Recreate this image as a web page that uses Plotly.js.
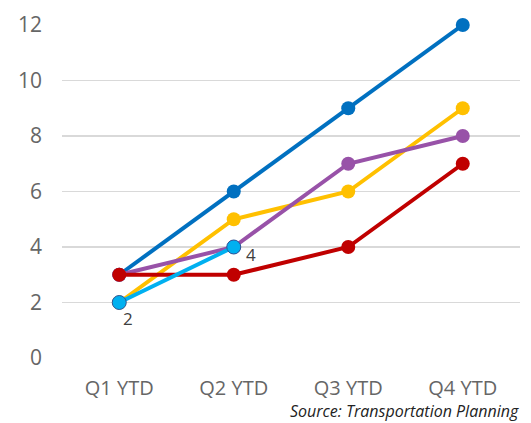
<!DOCTYPE html>
<html>
<head>
<meta charset="utf-8">
<script src="https://cdn.plot.ly/plotly-3.0.1.min.js"></script>
<style>html,body{margin:0;padding:0;background:#fff;}#chart{width:531px;height:423px;}</style>
</head>
<body>
<div id="chart"></div>
<script>
var categories = ["Q1 YTD", "Q2 YTD", "Q3 YTD", "Q4 YTD"];
var seriesBlue = [3, 6, 9, 12];
var seriesYellow = [2, 5, 6, 9];
var seriesPurple = [3, 4, 7, 8];
var seriesRed = [3, 3, 4, 7];
var seriesLightBlue = [2, 4];
var lightBlueLabels = ["2", "4"];
var yTicks = [0, 2, 4, 6, 8, 10, 12];
var sourceText = "Source: Transportation Planning";

function line(y, color, extra) {
  var t = {
    x: categories.slice(0, y.length), y: y, type: "scatter", mode: "lines+markers",
    line: {color: color, width: 4},
    marker: {color: color, size: 14},
    cliponaxis: false, hoverinfo: "skip", showlegend: false
  };
  for (var k in extra) t[k] = extra[k];
  return t;
}

var traces = [
  line(seriesBlue, "#0070C0"),
  line(seriesYellow, "#FFC000"),
  line(seriesPurple, "#9852A8"),
  line(seriesRed, "#C00000"),
  line(seriesLightBlue, "#00B0F0", {
    marker: {color: "#00B0F0", size: 14, line: {color: "#2F5597", width: 1}}
  })
];

var labelShifts = [[9, -16], [17, -7]];
var annotations = seriesLightBlue.map(function (v, i) {
  return {
    x: categories[i], y: v, xref: "x", yref: "y", text: lightBlueLabels[i],
    showarrow: false, xshift: labelShifts[i][0], yshift: labelShifts[i][1],
    font: {family: "Open Sans, sans-serif", size: 17, color: "#404040"}
  };
});
annotations.push({
  text: "<i>" + sourceText + "</i>", xref: "paper", yref: "paper",
  x: 1.0, y: 0, xanchor: "right", yanchor: "top", yshift: -40, xshift: 1,
  showarrow: false, font: {size: 16, color: "#222", family: "Open Sans, sans-serif"}
});

var layout = {
  width: 531, height: 423,
  margin: {l: 62, r: 11, t: 25, b: 65},
  paper_bgcolor: "#fff", plot_bgcolor: "#fff",
  font: {family: "Open Sans, sans-serif", color: "#595959"},
  xaxis: {
    type: "category", range: [-0.5, 3.5], showgrid: false, zeroline: false,
    showline: false, ticks: "", tickfont: {size: 20, color: "#666666"},
    ticklabelstandoff: 16
  },
  yaxis: {
    range: [0, 12], tickvals: yTicks, showgrid: true, gridcolor: "#D9D9D9", gridwidth: 1.6,
    zeroline: false, showline: false, ticks: "",
    tickfont: {size: 21, color: "#666666"}, ticklabelstandoff: 19
  },
  annotations: annotations
};

Plotly.newPlot("chart", traces, layout, {displayModeBar: false, staticPlot: true});
</script>
</body>
</html>
